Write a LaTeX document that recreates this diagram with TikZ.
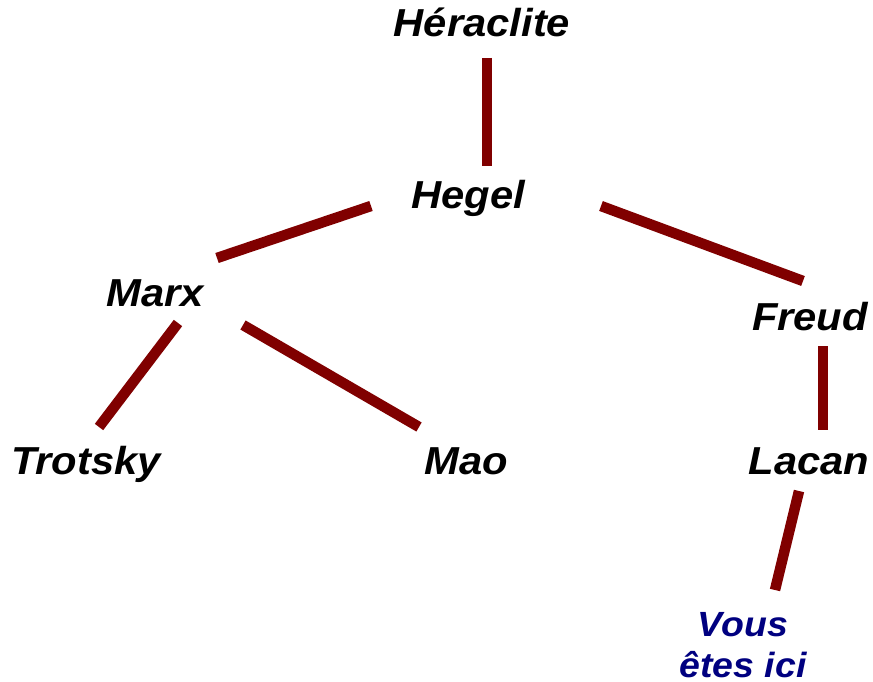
\documentclass[tikz,border=0pt]{standalone}
\usepackage{fontspec}
\setmainfont{Liberation Sans}[FakeStretch=1.07]
\usepackage{xcolor}
\usetikzlibrary{positioning}

\definecolor{linkred}{RGB}{128,0,0}
\definecolor{herenavy}{RGB}{0,0,128}

\tikzset{
    thinker/.style={anchor=base, inner sep=0pt, font=\bfseries\itshape\fontsize{39}{42}\selectfont},
    here/.style={anchor=base, inner sep=0pt, text depth=0pt, align=center, text=herenavy, font=\bfseries\itshape\fontsize{35}{41}\selectfont},
    link/.style={draw=linkred, line width=10.5pt}
}

\begin{document}
\begin{tikzpicture}[x=1pt, y=-1pt]

            \useasboundingbox (0,0) rectangle (873,682);

            \node[thinker] (Heraclite) at (482,37) {Héraclite};
            \node[thinker] (Hegel) at (468,208) {Hegel};
            \node[thinker] (Marx) at (155,306) {Marx};
            \node[thinker] (Freud) at (810,330) {Freud};
            \node[thinker] (Trotsky) at (86,474) {Trotsky};
            \node[thinker] (Mao) at (466,474) {Mao};
            \node[thinker] (Lacan) at (809,474) {Lacan};
            % base of a two-line node sits on its last line
            \node[here] (Vous) at (743,677) {Vous\\êtes ici};

            \draw[link] ([shift={(5,21)}]Heraclite.base) -- ([shift={(19,-42)}]Hegel.base);
            \draw[link] ([shift={(-97,-2)}]Hegel.base) -- ([shift={(62,-48)}]Marx.base);
            \draw[link] ([shift={(133,-2)}]Hegel.base) -- ([shift={(-7,-49)}]Freud.base);
            \draw[link] ([shift={(23,17)}]Marx.base) -- ([shift={(13,-47)}]Trotsky.base);
            \draw[link] ([shift={(88,19)}]Marx.base) -- ([shift={(-47,-47)}]Mao.base);
            \draw[link] ([shift={(13,16)}]Freud.base) -- ([shift={(14,-44)}]Lacan.base);
            \draw[link] ([shift={(-10,17)}]Lacan.base) -- ([shift={(32,-87)}]Vous.base);

        \end{tikzpicture}
\end{document}
